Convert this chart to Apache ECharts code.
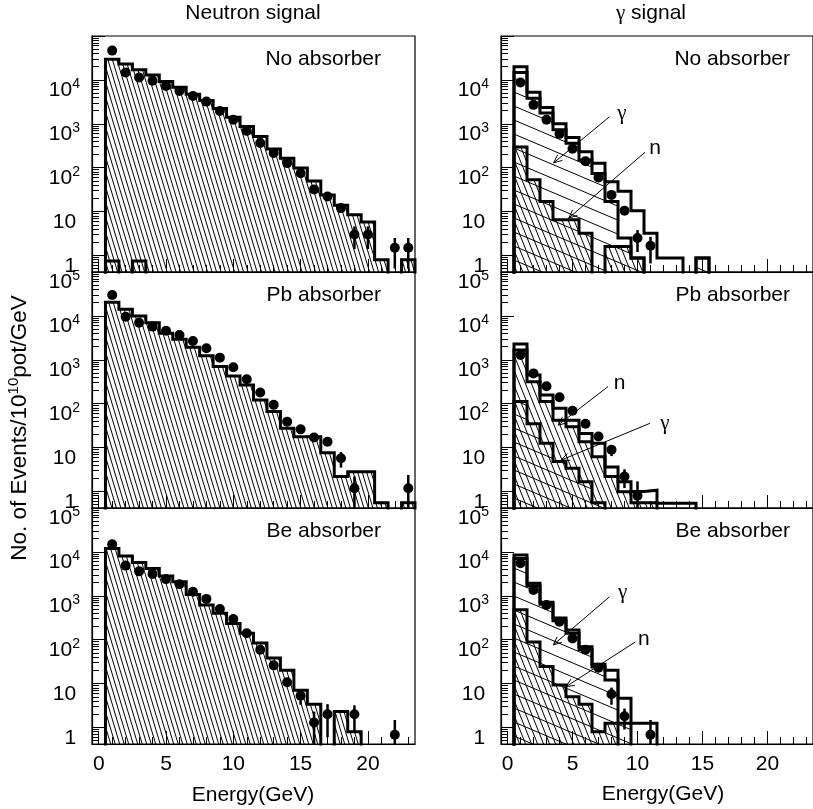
<!DOCTYPE html>
<html>
<head>
<meta charset="utf-8">
<title>Neutron and gamma signal</title>
<script src="https://cdn.jsdelivr.net/npm/echarts@6.0.0/dist/echarts.min.js"></script>
<style>
html, body { margin: 0; padding: 0; background: #fff; }
#chart { width: 813px; height: 809px; }
</style>
</head>
<body>
<div id="chart"></div>
<script>
// values per 1 GeV bin, bin k is centred on k GeV (first entry = 1 GeV); 0 = empty bin

// --- Neutron signal column ---
var noAbsNeutronMC = [29500, 23000, 17000, 13000, 9200, 6800, 4700, 3400, 2240, 1410, 870, 510, 265, 165, 98, 50, 24, 14, 8.5, 5.8, 0.8, 0, 0.8];
var noAbsNeutronGammaMC = [0.75, 0, 0.75];
var noAbsNeutronData = [46500, 14700, 11300, 9600, 7300, 5600, 4300, 3200, 1960, 1230, 690, 365, 215, 127, 75, 32, 22, 12, 3, 3, null, 1.5, 1.5];
var noAbsNeutronErr = [0, 0, 0, 0, 0, 0, 0, 0, 0, 0, 0, 0, 0, 0, 0, 0, 0, 0, 1.6, 1.6, 0, 1.0, 1.0];

var pbNeutronMC = [20400, 14100, 10000, 7000, 4000, 2950, 1920, 1230, 700, 425, 267, 121, 66, 27.5, 17.7, 17.7, 7.6, 2.2, 2.8, 2.8, 0.55, 0, 0.55];
var pbNeutronData = [30000, 9600, 7000, 5700, 4600, 3650, 2680, 1830, 1120, 675, 360, 180, 94, 39, 26, 17, 13.6, 5.7, 1.18, null, null, null, 1.18];
var pbNeutronErr = [0, 0, 0, 0, 0, 0, 0, 0, 0, 0, 0, 0, 0, 0, 0, 0, 0, 2.2, 1.0, 0, 0, 0, 1.2];

var beNeutronMC = [12000, 8100, 5700, 4200, 2840, 2100, 1070, 620, 400, 235, 140, 84, 38, 20, 7, 3.4, 0, 2.3, 0.8];
var beNeutronData = [14900, 4870, 3600, 3150, 2400, 1830, 1230, 850, 500, 297, 140, 59, 26, 10.7, 5.3, 1.3, 2.0, null, 2.0, null, null, 0.68];
var beNeutronErr = [0, 0, 0, 0, 0, 0, 0, 0, 0, 0, 0, 0, 0, 0, 2.0, 1.0, 1.4, 0, 1.2, 0, 0, 0.8];

// --- gamma signal column ---
var noAbsGammaTotalMC = [20000, 5200, 2340, 1000, 490, 230, 126, 48, 29, 10.5, 3.2, 0.87, 0.87, 0, 0.87];
var noAbsGammaMC = [14700, 3800, 1750, 730, 360, 150, 74, 17, 2.5, 0.87, 0, 0, 0, 0, 0.87];
var noAbsGammaNeutronMC = [295, 53, 17, 6.5, 6.5, 3.2, 0, 1.6, 1.6, 0.87];
var noAbsGammaData = [8700, 2700, 1230, 590, 270, 140, 60, 24, 10.5, 2.5, 1.66];
var noAbsGammaErr = [0, 0, 0, 0, 0, 0, 0, 0, 0, 1.3, 1.0];

var pbGammaTotalMC = [2300, 450, 158, 79, 42, 21, 12.6, 3.6, 1.66, 1.0, 1.07, 0.54, 0.54, 0.54];
var pbGammaNeutronMC = [1660, 316, 112, 42, 30, 13.5, 6.2, 2.2, 0.98, 0.55, 0.55];
var pbGammaMC = [112, 35, 12.6, 4.8, 3.4, 1.66, 0.55];
var pbGammaData = [1290, 490, 250, 140, 69, 35, 17.8, 8.9, 2.2, 0.8];
var pbGammaErr = [0, 0, 0, 0, 0, 0, 0, 2.5, 1.0, 0.9];

var beGammaTotalMC = [8500, 1920, 710, 310, 166, 69, 27.5, 20, 4.6, 1.25, 1.25];
var beGammaMC = [7100, 1700, 640, 270, 140, 60, 24, 12, 1.25];
var beGammaNeutronMC = [480, 89, 24.5, 9.3, 5.0, 3.4, 0.8, 1.25];
var beGammaData = [5500, 1350, 615, 257, 107, 59, 23, 5.7, 1.8, null, 0.68];
var beGammaErr = [0, 0, 0, 0, 0, 0, 0, 2.4, 0.9, 0, 0.8];

// arrows: [tailX, tailY, headX, headY, labelX, labelY]
var noAbsArrows = [[7.85, 1450, 3.55, 129, 8.8, 1760], [10.58, 225, 4.71, 7.1, 11.36, 273]];
var noAbsArrowText = ['γ', 'n'];
var pbArrows = [[7.73, 245, 3.89, 32.5, 8.63, 292], [10.95, 35.6, 4.13, 5.2, 12.1, 36]];
var pbArrowText = ['n', 'γ'];
var beArrows = [[7.85, 950, 3.52, 76, 8.85, 1220], [9.84, 89, 4.5, 8.5, 10.49, 104]];
var beArrowText = ['γ', 'n'];

var panelNames = ['No absorber', 'No absorber', 'Pb absorber', 'Pb absorber', 'Be absorber', 'Be absorber'];
var xTickLabels = [0, 5, 10, 15, 20];
var yTickLabels = [1, 10, 100, 1000, 10000, 100000];

var FONT = "'Liberation Sans', Arial, Helvetica, sans-serif";
var SERIF = "'Liberation Serif', 'DejaVu Serif', serif";
var FLOOR = 0.1;
var YMIN = 0.42, YMAX = 100000;

var xMinorTicks = [];
for (var k = 1; k <= 23; k++) if (k % 5 !== 0) xMinorTicks.push(k);
var yMinorTicks = [];
for (var e = -1; e <= 4; e++) {
    for (var m = 2; m <= 9; m++) {
        var t = m * Math.pow(10, e);
        if (t >= YMIN && t <= YMAX) yMinorTicks.push(+t.toPrecision(3));
    }
}

// hatch patterns (transparent tiles with 1px lines)
function hatch(w, h, segs) {
    var c = document.createElement('canvas');
    c.width = w; c.height = h;
    var ctx = c.getContext('2d');
    ctx.strokeStyle = '#000';
    ctx.lineWidth = 1;
    segs.forEach(function (s) {
        ctx.beginPath();
        ctx.moveTo(s[0], s[1]);
        ctx.lineTo(s[2], s[3]);
        ctx.stroke();
    });
    return { image: c, repeat: 'repeat' };
}
var segs = [];
for (var o = -9; o <= 9; o += 4.5) segs.push([o, 0, o + 4.5, 15]);
var neutronHatch = hatch(9, 15, segs);
segs = [];
for (o = -12; o <= 12; o += 6) segs.push([o, 0, o + 6, 15]);
var neutronHatchWide = hatch(12, 15, segs);
segs = [];
for (o = -14; o <= 14; o += 14) segs.push([0, o, 33, o + 14]);
var gammaHatch = hatch(33, 14, segs);

function stepLine(values) {
    var pts = [[0.5, FLOOR]];
    for (var i = 0; i < values.length; i++) {
        var v = values[i] > 0 ? values[i] : FLOOR;
        pts.push([i + 0.5, v]);
        pts.push([i + 1.5, v]);
    }
    pts.push([values.length + 0.5, FLOOR]);
    return pts;
}

function supLabel(v) {
    var p = Math.round(Math.log(v) / Math.LN10);
    if (p === 0) return '1{s| }';
    if (p === 1) return '10{s| }';
    return '10{s|' + p + '}';
}

var grids = [], xAxes = [], yAxes = [], series = [];
var gridPos = [[92, 36], [501, 36], [92, 272], [501, 272], [92, 508], [501, 508]];

gridPos.forEach(function (p, i) {
    grids.push({ left: p[0], top: p[1], width: 323, height: 236, show: true, borderColor: '#000', borderWidth: 1.2, containLabel: false });
    xAxes.push({
        type: 'value', gridIndex: i, min: -0.5, max: 23.5, position: 'bottom',
        axisLine: { show: true, onZero: false, lineStyle: { color: '#000', width: 1.2 } },
        axisTick: { show: true, inside: true, length: 13, customValues: xTickLabels, lineStyle: { color: '#000', width: 1 } },
        axisLabel: { show: i >= 4, customValues: xTickLabels, fontSize: 21, fontFamily: FONT, color: '#000', margin: 10 },
        splitLine: { show: false }
    });
    xAxes.push({
        type: 'value', gridIndex: i, min: -0.5, max: 23.5, position: 'bottom',
        axisLine: { show: false, onZero: false },
        axisTick: { show: true, inside: true, length: 7, customValues: xMinorTicks, lineStyle: { color: '#000', width: 1 } },
        axisLabel: { show: false },
        splitLine: { show: false }
    });
    var labels = i < 2 ? yTickLabels.slice(0, 5) : yTickLabels;
    yAxes.push({
        type: 'log', logBase: 10, gridIndex: i, min: YMIN, max: YMAX, position: 'left',
        axisLine: { show: true, onZero: false, lineStyle: { color: '#000', width: 1.2 } },
        axisTick: { show: true, inside: true, length: 13, customValues: yTickLabels, lineStyle: { color: '#000', width: 1 } },
        axisLabel: {
            show: true, customValues: labels, formatter: supLabel, margin: 12,
            fontSize: 21, fontFamily: FONT, color: '#000', padding: [21, 0, 0, 0],
            rich: { s: { fontSize: 14, fontFamily: FONT, color: '#000', padding: [0, 0, 13, 0] } }
        },
        splitLine: { show: false }
    });
    yAxes.push({
        type: 'log', logBase: 10, gridIndex: i, min: YMIN, max: YMAX, position: 'left',
        axisLine: { show: false, onZero: false },
        axisTick: { show: true, inside: true, length: 7, customValues: yMinorTicks, lineStyle: { color: '#000', width: 1 } },
        axisLabel: { show: false },
        splitLine: { show: false }
    });
});

function addFill(gi, values, pattern) {
    series.push({
        type: 'line', xAxisIndex: gi * 2, yAxisIndex: gi * 2, data: stepLine(values),
        symbol: 'none', silent: true, clip: true, z: 2,
        lineStyle: { width: 0, opacity: 0 },
        areaStyle: { color: pattern, opacity: 1, origin: 'start' }
    });
}
function addOutline(gi, values) {
    series.push({
        type: 'line', xAxisIndex: gi * 2, yAxisIndex: gi * 2, data: stepLine(values),
        symbol: 'none', silent: true, clip: true, z: 3,
        lineStyle: { color: '#000', width: 3, join: 'miter', cap: 'square' }
    });
}
function addPoints(gi, values, errors) {
    var pts = [], bars = [];
    values.forEach(function (v, i) {
        if (v == null) return;
        pts.push([i + 1, v]);
        if (errors[i] > 0) bars.push([i + 1, v, errors[i]]);
    });
    series.push({
        type: 'custom', xAxisIndex: gi * 2, yAxisIndex: gi * 2, data: bars, z: 4, silent: true,
        encode: { x: 0, y: 1 },
        renderItem: function (params, api) {
            var x = api.value(0), v = api.value(1), er = api.value(2);
            var top = api.coord([x, v + er]);
            var bot = api.coord([x, v - er > 0 ? v - er : FLOOR]);
            var cs = params.coordSys;
            return {
                type: 'line',
                shape: { x1: top[0], y1: Math.max(top[1], cs.y), x2: bot[0], y2: Math.min(bot[1], cs.y + cs.height) },
                style: { stroke: '#000', lineWidth: 2.5 }
            };
        }
    });
    series.push({
        type: 'scatter', xAxisIndex: gi * 2, yAxisIndex: gi * 2, data: pts, z: 5, silent: true,
        symbol: 'circle', symbolSize: 10, itemStyle: { color: '#000', opacity: 1 }
    });
}
function addArrows(gi, arrows, texts) {
    series.push({
        type: 'custom', xAxisIndex: gi * 2, yAxisIndex: gi * 2, data: arrows, z: 6, silent: true,
        encode: { x: 0, y: 1 },
        renderItem: function (params, api) {
            var t = api.coord([api.value(0), api.value(1)]);
            var h = api.coord([api.value(2), api.value(3)]);
            var l = api.coord([api.value(4), api.value(5)]);
            var ang = Math.atan2(t[1] - h[1], t[0] - h[0]);
            var L = 9, a = 0.42;
            var w1 = [h[0] + L * Math.cos(ang + a), h[1] + L * Math.sin(ang + a)];
            var w2 = [h[0] + L * Math.cos(ang - a), h[1] + L * Math.sin(ang - a)];
            var txt = texts[params.dataIndex];
            return {
                type: 'group',
                children: [
                    { type: 'line', shape: { x1: t[0], y1: t[1], x2: h[0], y2: h[1] }, style: { stroke: '#000', lineWidth: 1 } },
                    { type: 'polyline', shape: { points: [w1, h, w2] }, style: { stroke: '#000', lineWidth: 1, fill: null } },
                    {
                        type: 'text', x: l[0], y: l[1],
                        style: { text: txt, fontSize: 21, fontFamily: txt === 'γ' ? SERIF : FONT, fill: '#000', align: 'center', verticalAlign: 'middle' }
                    }
                ]
            };
        }
    });
}

// neutron signal panels
addFill(0, noAbsNeutronMC, neutronHatch);
addOutline(0, noAbsNeutronMC);
addOutline(0, noAbsNeutronGammaMC);
addPoints(0, noAbsNeutronData, noAbsNeutronErr);

addFill(2, pbNeutronMC, neutronHatch);
addOutline(2, pbNeutronMC);
addPoints(2, pbNeutronData, pbNeutronErr);

addFill(4, beNeutronMC, neutronHatch);
addOutline(4, beNeutronMC);
addPoints(4, beNeutronData, beNeutronErr);

// gamma signal panels
addFill(1, noAbsGammaMC, gammaHatch);
addFill(1, noAbsGammaNeutronMC, neutronHatchWide);
addOutline(1, noAbsGammaTotalMC);
addOutline(1, noAbsGammaMC);
addOutline(1, noAbsGammaNeutronMC);
addPoints(1, noAbsGammaData, noAbsGammaErr);
addArrows(1, noAbsArrows, noAbsArrowText);

addFill(3, pbGammaNeutronMC, neutronHatchWide);
addFill(3, pbGammaMC, gammaHatch);
addOutline(3, pbGammaTotalMC);
addOutline(3, pbGammaNeutronMC);
addOutline(3, pbGammaMC);
addPoints(3, pbGammaData, pbGammaErr);
addArrows(3, pbArrows, pbArrowText);

addFill(5, beGammaMC, gammaHatch);
addFill(5, beGammaNeutronMC, neutronHatchWide);
addOutline(5, beGammaTotalMC);
addOutline(5, beGammaMC);
addOutline(5, beGammaNeutronMC);
addPoints(5, beGammaData, beGammaErr);
addArrows(5, beArrows, beArrowText);

var texts = [
    { type: 'text', x: 253, y: 13, style: { text: 'Neutron signal', fontSize: 21, fontFamily: FONT, fill: '#000', align: 'center', verticalAlign: 'middle' } },
    {
        type: 'text', x: 651, y: 13,
        style: { text: '{g|γ} signal', fontSize: 21, fontFamily: FONT, fill: '#000', align: 'center', verticalAlign: 'middle',
            rich: { g: { fontSize: 21, fontFamily: SERIF, fill: '#000' } } }
    },
    { type: 'text', x: 253, y: 795, style: { text: 'Energy(GeV)', fontSize: 21, fontFamily: FONT, fill: '#000', align: 'center', verticalAlign: 'middle' } },
    { type: 'text', x: 663, y: 794, style: { text: 'Energy(GeV)', fontSize: 21, fontFamily: FONT, fill: '#000', align: 'center', verticalAlign: 'middle' } },
    {
        type: 'text', x: 20, y: 428, rotation: Math.PI / 2,
        style: { text: 'No. of Events/10{s|10}pot/GeV', fontSize: 22.5, fontFamily: FONT, fill: '#000', align: 'center', verticalAlign: 'middle',
            rich: { s: { fontSize: 15, fontFamily: FONT, fill: '#000', padding: [0, 0, 13, 0] } } }
    }
];
gridPos.forEach(function (p, i) {
    texts.push({
        type: 'text', x: p[0] === 92 ? 381 : 790, y: p[1] + 23.5,
        style: { text: panelNames[i], fontSize: 21, fontFamily: FONT, fill: '#000', align: 'right', verticalAlign: 'middle' }
    });
});

var chart = echarts.init(document.getElementById('chart'), null, { renderer: 'canvas' });
chart.setOption({
    animation: false,
    backgroundColor: '#fff',
    grid: grids,
    xAxis: xAxes,
    yAxis: yAxes,
    series: series,
    graphic: { elements: texts }
});
</script>
</body>
</html>
